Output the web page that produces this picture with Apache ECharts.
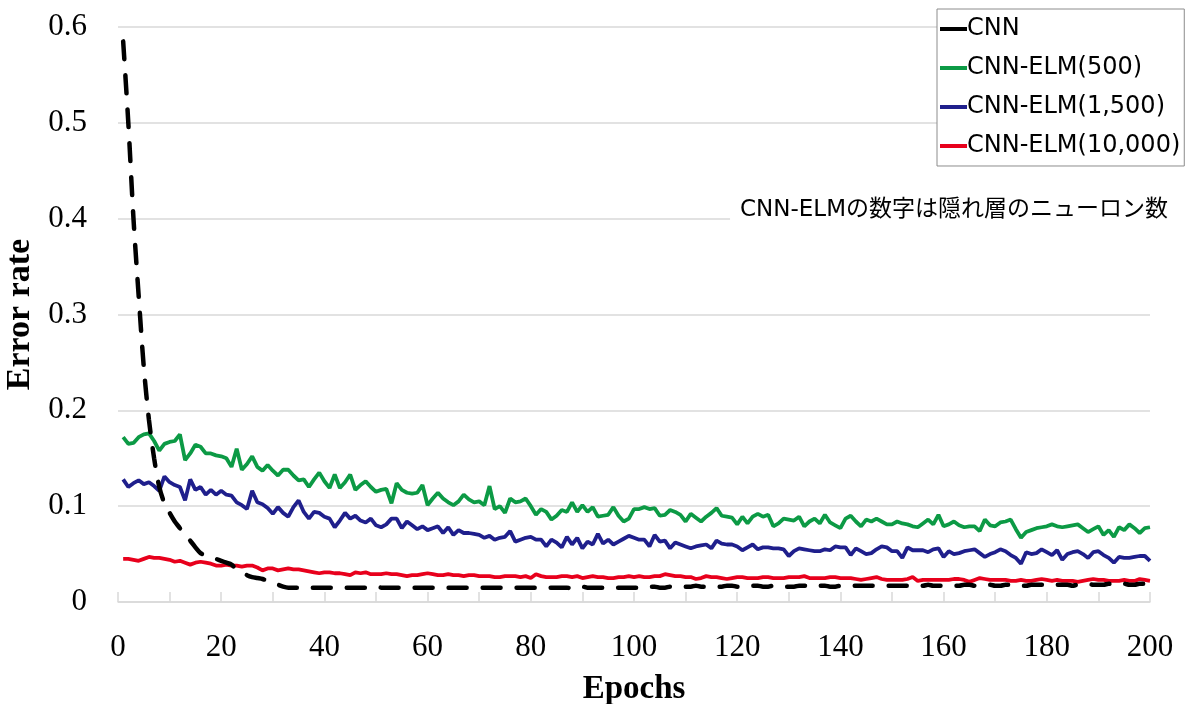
<!DOCTYPE html>
<html>
<head>
<meta charset="utf-8">
<script src="https://cdn.jsdelivr.net/npm/echarts@6/dist/echarts.min.js"></script>
<style>
html, body { margin: 0; padding: 0; background: #fff; }
#char { width: 1187px; height: 704px; }
</style>
</head>
<body>
<div id="char"></div>
<script>
// CNN と CNN-ELM のエポック毎の誤り率
const seriesNames = ['CNN', 'CNN-ELM(500)', 'CNN-ELM(1,500)', 'CNN-ELM(10,000)'];
const xTickLabels = [0, 20, 40, 60, 80, 100, 120, 140, 160, 180, 200];
const yTickLabels = [0, 0.1, 0.2, 0.3, 0.4, 0.5, 0.6];
const noteText = 'CNN-ELMの数字は隠れ層のニューロン数';

const cnnErr = [
    0.585, 0.500, 0.400, 0.320, 0.245, 0.190, 0.150, 0.120, 0.103, 0.093,
    0.084, 0.077, 0.069, 0.064, 0.057, 0.051, 0.049, 0.047, 0.045, 0.043,
    0.041, 0.039, 0.034, 0.031, 0.028, 0.026, 0.025, 0.024, 0.022, 0.020,
    0.018, 0.016, 0.015, 0.015, 0.015, 0.015, 0.015, 0.015, 0.015, 0.015,
    0.015, 0.015, 0.015, 0.015, 0.015, 0.015, 0.015, 0.015, 0.016, 0.016,
    0.015, 0.015, 0.015, 0.015, 0.015, 0.015, 0.015, 0.015, 0.015, 0.015,
    0.015, 0.015, 0.015, 0.015, 0.015, 0.015, 0.015, 0.015, 0.015, 0.015,
    0.015, 0.015, 0.015, 0.015, 0.015, 0.015, 0.015, 0.015, 0.015, 0.015,
    0.015, 0.015, 0.015, 0.015, 0.015, 0.015, 0.015, 0.014, 0.016, 0.016,
    0.015, 0.015, 0.015, 0.015, 0.015, 0.015, 0.015, 0.015, 0.015, 0.015,
    0.015, 0.015, 0.016, 0.016, 0.015, 0.015, 0.016, 0.016, 0.016, 0.016,
    0.016, 0.017, 0.016, 0.016, 0.016, 0.016, 0.016, 0.017, 0.017, 0.016,
    0.016, 0.016, 0.017, 0.017, 0.016, 0.016, 0.017, 0.017, 0.016, 0.016,
    0.016, 0.017, 0.017, 0.016, 0.017, 0.017, 0.017, 0.016, 0.016, 0.017,
    0.017, 0.017, 0.017, 0.017, 0.017, 0.017, 0.017, 0.017, 0.017, 0.017,
    0.017, 0.017, 0.017, 0.017, 0.017, 0.017, 0.018, 0.017, 0.017, 0.017,
    0.017, 0.017, 0.017, 0.018, 0.018, 0.017, 0.018, 0.018, 0.018, 0.017,
    0.017, 0.018, 0.018, 0.018, 0.017, 0.017, 0.018, 0.018, 0.018, 0.018,
    0.018, 0.018, 0.018, 0.018, 0.017, 0.018, 0.018, 0.019, 0.018, 0.018,
    0.018, 0.019, 0.018, 0.018, 0.019, 0.018, 0.018, 0.019, 0.019, 0.018
];

const elm500Err = [
    0.172, 0.165, 0.166, 0.172, 0.175, 0.176, 0.168, 0.158, 0.165, 0.167,
    0.168, 0.175, 0.148, 0.155, 0.164, 0.162, 0.155, 0.155, 0.153, 0.152,
    0.150, 0.141, 0.160, 0.138, 0.144, 0.152, 0.141, 0.137, 0.143, 0.137,
    0.132, 0.138, 0.138, 0.132, 0.127, 0.128, 0.120, 0.128, 0.135, 0.126,
    0.119, 0.133, 0.119, 0.125, 0.133, 0.117, 0.122, 0.126, 0.120, 0.115,
    0.117, 0.118, 0.103, 0.124, 0.117, 0.114, 0.113, 0.114, 0.122, 0.101,
    0.108, 0.114, 0.108, 0.104, 0.101, 0.105, 0.112, 0.107, 0.104, 0.105,
    0.101, 0.121, 0.097, 0.100, 0.093, 0.108, 0.104, 0.105, 0.108, 0.100,
    0.091, 0.097, 0.094, 0.086, 0.090, 0.096, 0.094, 0.104, 0.094, 0.101,
    0.094, 0.099, 0.089, 0.090, 0.091, 0.099, 0.090, 0.084, 0.087, 0.097,
    0.097, 0.099, 0.097, 0.098, 0.090, 0.091, 0.096, 0.094, 0.091, 0.084,
    0.092, 0.088, 0.084, 0.089, 0.093, 0.098, 0.090, 0.089, 0.088, 0.081,
    0.089, 0.082, 0.089, 0.092, 0.089, 0.091, 0.079, 0.082, 0.087, 0.086,
    0.085, 0.089, 0.079, 0.084, 0.087, 0.082, 0.091, 0.083, 0.080, 0.077,
    0.087, 0.090, 0.084, 0.079, 0.086, 0.084, 0.087, 0.084, 0.081, 0.081,
    0.084, 0.082, 0.081, 0.079, 0.078, 0.082, 0.086, 0.081, 0.091, 0.079,
    0.081, 0.084, 0.080, 0.078, 0.079, 0.079, 0.074, 0.086, 0.080, 0.079,
    0.083, 0.084, 0.086, 0.076, 0.067, 0.073, 0.075, 0.077, 0.078, 0.079,
    0.081, 0.079, 0.078, 0.079, 0.080, 0.081, 0.077, 0.073, 0.076, 0.079,
    0.070, 0.075, 0.068, 0.078, 0.075, 0.081, 0.077, 0.072, 0.077, 0.078
];

const elm1500Err = [
    0.128, 0.120, 0.124, 0.127, 0.123, 0.125, 0.121, 0.116, 0.131, 0.125,
    0.122, 0.120, 0.106, 0.128, 0.117, 0.120, 0.112, 0.117, 0.112, 0.116,
    0.112, 0.111, 0.104, 0.101, 0.097, 0.116, 0.104, 0.102, 0.098, 0.092,
    0.099, 0.093, 0.089, 0.099, 0.106, 0.094, 0.087, 0.094, 0.093, 0.089,
    0.087, 0.078, 0.085, 0.093, 0.087, 0.090, 0.085, 0.083, 0.087, 0.080,
    0.078, 0.081, 0.087, 0.087, 0.077, 0.084, 0.080, 0.076, 0.079, 0.075,
    0.077, 0.079, 0.072, 0.078, 0.070, 0.075, 0.072, 0.072, 0.071, 0.070,
    0.067, 0.069, 0.065, 0.067, 0.068, 0.074, 0.063, 0.065, 0.067, 0.068,
    0.065, 0.065, 0.058, 0.065, 0.062, 0.057, 0.068, 0.060, 0.067, 0.056,
    0.063, 0.060, 0.071, 0.061, 0.065, 0.060, 0.063, 0.066, 0.069, 0.067,
    0.065, 0.065, 0.058, 0.070, 0.063, 0.064, 0.056, 0.062, 0.060, 0.058,
    0.056, 0.058, 0.059, 0.060, 0.056, 0.064, 0.061, 0.060, 0.060, 0.058,
    0.054, 0.057, 0.060, 0.055, 0.057, 0.057, 0.056, 0.056, 0.055, 0.048,
    0.053, 0.056, 0.055, 0.054, 0.053, 0.053, 0.055, 0.054, 0.058, 0.057,
    0.057, 0.049, 0.056, 0.053, 0.050, 0.051, 0.055, 0.058, 0.057, 0.053,
    0.053, 0.046, 0.057, 0.054, 0.054, 0.054, 0.052, 0.055, 0.056, 0.047,
    0.053, 0.050, 0.051, 0.053, 0.054, 0.055, 0.051, 0.047, 0.050, 0.052,
    0.055, 0.053, 0.049, 0.046, 0.040, 0.052, 0.050, 0.051, 0.055, 0.052,
    0.049, 0.054, 0.044, 0.050, 0.052, 0.053, 0.050, 0.046, 0.052, 0.053,
    0.049, 0.046, 0.041, 0.047, 0.046, 0.046, 0.047, 0.048, 0.048, 0.043
];

const elm10000Err = [
    0.045, 0.045, 0.044, 0.043, 0.045, 0.047, 0.046, 0.046, 0.045, 0.044,
    0.042, 0.043, 0.041, 0.039, 0.041, 0.042, 0.041, 0.040, 0.038, 0.038,
    0.039, 0.038, 0.038, 0.037, 0.038, 0.038, 0.036, 0.033, 0.035, 0.035,
    0.033, 0.034, 0.035, 0.034, 0.034, 0.033, 0.032, 0.031, 0.030, 0.031,
    0.031, 0.030, 0.030, 0.029, 0.028, 0.031, 0.030, 0.031, 0.029, 0.029,
    0.029, 0.030, 0.029, 0.029, 0.028, 0.027, 0.028, 0.028, 0.029, 0.030,
    0.029, 0.028, 0.028, 0.029, 0.028, 0.028, 0.027, 0.028, 0.028, 0.027,
    0.027, 0.027, 0.026, 0.026, 0.027, 0.027, 0.027, 0.026, 0.027, 0.025,
    0.029, 0.027, 0.026, 0.026, 0.026, 0.027, 0.027, 0.026, 0.027, 0.025,
    0.026, 0.027, 0.026, 0.026, 0.025, 0.025, 0.026, 0.026, 0.027, 0.026,
    0.027, 0.026, 0.026, 0.027, 0.027, 0.029, 0.028, 0.027, 0.027, 0.026,
    0.026, 0.024, 0.025, 0.027, 0.026, 0.026, 0.025, 0.024, 0.025, 0.026,
    0.026, 0.025, 0.025, 0.025, 0.026, 0.026, 0.025, 0.025, 0.025, 0.026,
    0.026, 0.026, 0.027, 0.025, 0.025, 0.025, 0.025, 0.026, 0.026, 0.025,
    0.025, 0.025, 0.024, 0.023, 0.024, 0.025, 0.026, 0.024, 0.023, 0.023,
    0.023, 0.023, 0.024, 0.026, 0.022, 0.023, 0.023, 0.023, 0.023, 0.023,
    0.023, 0.024, 0.024, 0.023, 0.021, 0.023, 0.025, 0.024, 0.023, 0.023,
    0.023, 0.023, 0.022, 0.022, 0.023, 0.022, 0.022, 0.023, 0.024, 0.023,
    0.022, 0.023, 0.022, 0.022, 0.022, 0.021, 0.022, 0.023, 0.024, 0.023,
    0.023, 0.022, 0.022, 0.022, 0.023, 0.022, 0.022, 0.024, 0.023, 0.022
];

// エポック番号 1..200
const epochs = cnnErr.map(function (v, i) { return i + 1; });
function pairs(arr) {
    return arr.map(function (v, i) { return [epochs[i], v]; });
}

const serif = 'Liberation Serif, Times New Roman, serif';
const sans = 'DejaVu Sans, Verdana, Noto Sans CJK JP, sans-serif';
const gridColor = '#d9d9d9';

const charEle = document.getElementById('char');
const charEch = echarts.init(charEle);

const option = {
    animation: false,
    backgroundColor: '#fff',
    grid: { left: 118, right: 37, top: 27, bottom: 102, containLabel: false, outerBoundsMode: 'none' },
    legend: {
        orient: 'vertical',
        left: 937,
        top: 9,
        padding: [8, 4, 8, 3],
        itemGap: 15,
        itemWidth: 27,
        itemHeight: 4,
        icon: 'rect',
        backgroundColor: '#fff',
        borderColor: '#8c8c8c',
        borderWidth: 1,
        borderRadius: 0,
        textStyle: { fontFamily: sans, fontSize: 24, color: '#000', padding: [0, 0, 0, -5] },
        data: seriesNames
    },
    xAxis: {
        type: 'value',
        min: 0,
        max: 200,
        interval: 10,
        axisLine: { show: true, onZero: false, lineStyle: { color: gridColor, width: 1.5 } },
        axisTick: { show: true, inside: true, length: 10, lineStyle: { color: gridColor, width: 1.5 } },
        splitLine: { show: false },
        axisLabel: {
            margin: 30,
            fontFamily: serif,
            fontSize: 31,
            color: '#000',
            formatter: function (v) {
                return xTickLabels.indexOf(v) >= 0 ? String(v) : '';
            }
        },
        name: 'Epochs',
        nameLocation: 'middle',
        nameGap: 71,
        nameTextStyle: { fontFamily: serif, fontSize: 33, fontWeight: 'bold', color: '#000' }
    },
    yAxis: {
        type: 'value',
        min: 0,
        max: 0.6,
        interval: 0.1,
        axisLine: { show: false },
        axisTick: { show: false },
        splitLine: { show: true, lineStyle: { color: gridColor, width: 1.5 } },
        axisLabel: {
            margin: 31,
            fontFamily: serif,
            fontSize: 31,
            color: '#000',
            formatter: function (v) {
                const hit = yTickLabels.find(function (t) { return Math.abs(t - v) < 1e-6; });
                return hit === undefined ? '' : String(hit);
            }
        },
        name: 'Error rate',
        nameLocation: 'middle',
        nameRotate: 90,
        nameGap: 72,
        nameTextStyle: { fontFamily: serif, fontSize: 34, fontWeight: 'bold', color: '#000' }
    },
    graphic: [
        {
            type: 'text',
            right: 15,
            top: 197,
            z: 100,
            style: {
                text: noteText,
                fontFamily: sans,
                fontSize: 23,
                fill: '#000',
                backgroundColor: '#fff',
                padding: [2, 4, 4, 10]
            }
        }
    ],
    series: [
        {
            name: seriesNames[0],
            type: 'line',
            data: pairs(cnnErr),
            showSymbol: false,
            smooth: 0.3,
            color: '#000',
            z: 5,
            lineStyle: { color: '#000', width: 4.5, type: [18, 16], cap: 'round' }
        },
        {
            name: seriesNames[1],
            type: 'line',
            data: pairs(elm500Err),
            showSymbol: false,
            color: '#0c9a45',
            lineStyle: { color: '#0c9a45', width: 3.8 }
        },
        {
            name: seriesNames[2],
            type: 'line',
            data: pairs(elm1500Err),
            showSymbol: false,
            color: '#1f1f8c',
            lineStyle: { color: '#1f1f8c', width: 3.8 }
        },
        {
            name: seriesNames[3],
            type: 'line',
            data: pairs(elm10000Err),
            showSymbol: false,
            color: '#e8001c',
            lineStyle: { color: '#e8001c', width: 3.8 }
        }
    ]
};

charEch.setOption(option, true);
</script>
</body>
</html>
